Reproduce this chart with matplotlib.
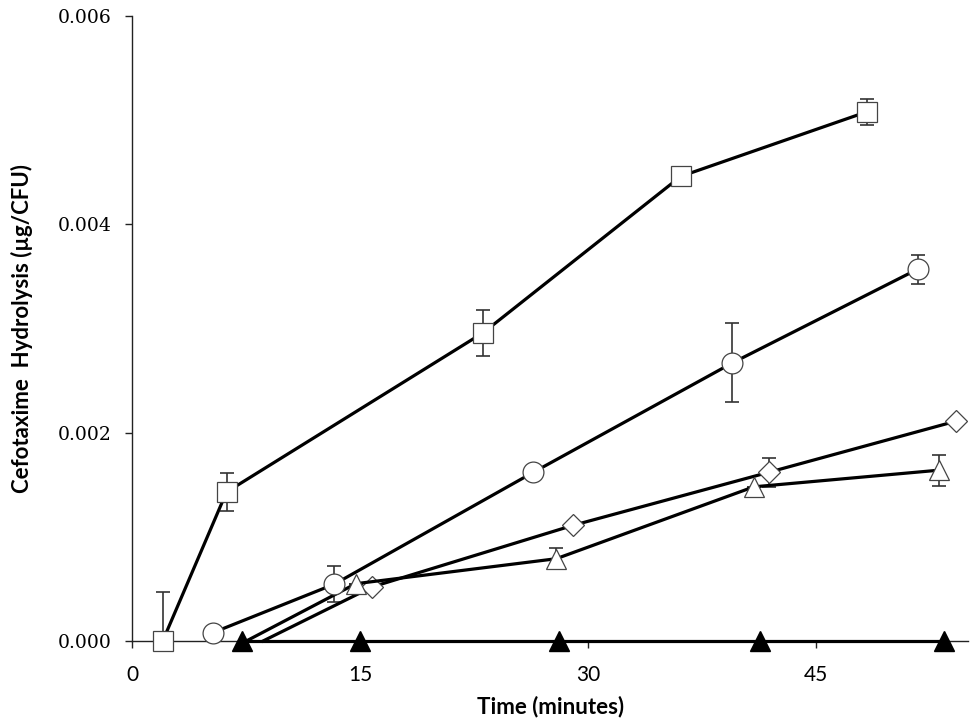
import numpy as np
import matplotlib
matplotlib.use("Agg")
import matplotlib.pyplot as plt

# valores
sq_x = [2.0, 6.2, 23.1, 36.1, 48.35]
sq_y = [0.0000, 0.00143, 0.00296, 0.00446, 0.00508]
sq_err = [0.00047, 0.00018, 0.00022, 0.0, 0.000125]

ci_x = [5.3, 13.3, 26.4, 39.5, 51.7]
ci_y = [0.00008, 0.000546, 0.00162, 0.00267, 0.00357]
ci_err = [0.0, 0.00017, 0.0, 0.00038, 0.00014]

tr_x = [7.5, 14.7, 27.9, 40.9, 53.1]
tr_y = [0.0, 0.00055, 0.00079, 0.00148, 0.00164]
tr_err = [0.0, 0.0, 0.0001, 0.0, 0.00015]

di_x = [8.6, 15.8, 29.0, 41.9, 54.2]
di_y = [0.0, 0.00052, 0.00111, 0.00162, 0.00211]
di_err = [0.0, 0.0, 0.0, 0.00014, 0.0]

ft_x = [7.2, 15.0, 28.1, 41.3, 53.4]
ft_y = [0.0, 0.0, 0.0, 0.0, 0.0]

x_ticks = [0, 15, 30, 45]
y_ticks = [0.000, 0.002, 0.004, 0.006]

fig = plt.figure(figsize=(9.75, 7.24), dpi=100)
ax = fig.add_axes([0.1357, 0.1146, 0.8571, 0.8634])

ms = 15
lw = 2.3

def serie(x, y, err, marker, size=ms, skip_first=False):
    ax.errorbar(x, y, yerr=err, fmt="none", ecolor="#333333", elinewidth=1.2,
                capsize=4.7, capthick=1.2, zorder=2)
    every = slice(1, None) if skip_first else None
    ax.plot(x, y, color="black", lw=lw, marker=marker, ms=size, mfc="white",
            mec="#444444", mew=0.9, markevery=every, zorder=3, clip_on=False)

serie(di_x, di_y, di_err, "D", size=11, skip_first=True)
serie(tr_x, tr_y, tr_err, "^", skip_first=True)
serie(ci_x, ci_y, ci_err, "o")
serie(sq_x, sq_y, sq_err, "s")

ax.plot(ft_x, ft_y, color="black", lw=lw, marker="^", ms=ms, mfc="black",
        mec="black", zorder=4, clip_on=False)

ax.set_xlim(0, 55)
ax.set_ylim(0, 0.006)
ax.set_xticks(x_ticks)
ax.set_yticks(y_ticks)
ax.set_yticklabels(["%.3f" % v for v in y_ticks], family="DejaVu Serif", fontsize=13.5)
ax.set_xticklabels([str(v) for v in x_ticks], family="Lato", fontsize=15)

for s in ["top", "right"]:
    ax.spines[s].set_visible(False)
for s in ["left", "bottom"]:
    ax.spines[s].set_linewidth(1.0)
    ax.spines[s].set_color("#222222")
ax.tick_params(direction="out", length=5, width=1.0, color="#222222")
ax.tick_params(axis="x", pad=12)
ax.tick_params(axis="y", pad=10)

ax.set_xlabel("Time (minutes)", family="Lato", fontweight="bold", fontsize=16, labelpad=8)
ax.set_ylabel("Cefotaxime  Hydrolysis (µg/CFU)", family="Lato", fontweight="bold",
              fontsize=16, labelpad=18)

fig.savefig("out.png", dpi=100)
